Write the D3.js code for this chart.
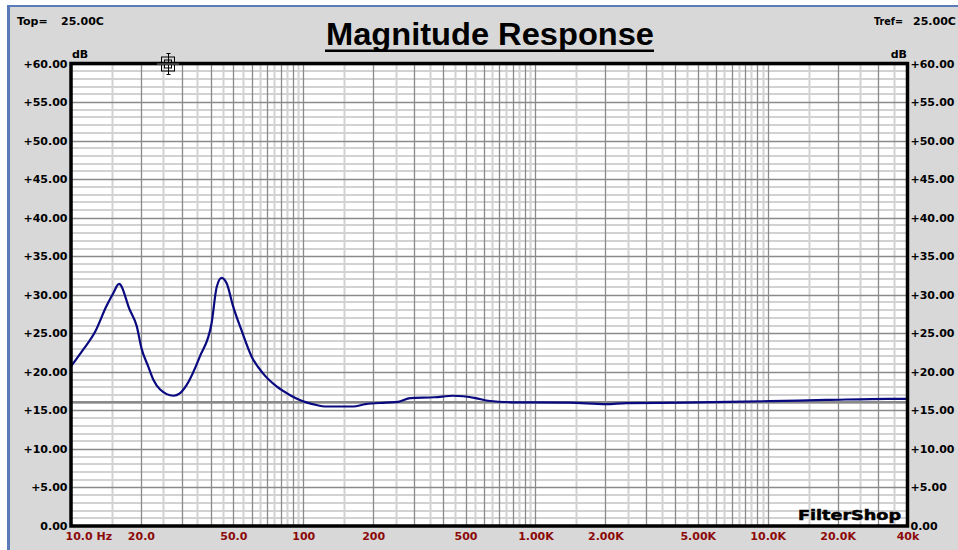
<!DOCTYPE html>
<html><head><meta charset="utf-8">
<script src="https://cdn.jsdelivr.net/npm/d3@7"></script>
<style>
html,body{margin:0;padding:0;background:#fff;}
svg{display:block;}
</style></head>
<body>
<svg id="chart" width="958" height="550"></svg>
<script>
// ---- data ----
const freqHz = [10, 11.3, 12.7, 14.2, 15.2, 16.1, 17.9, 19.2, 20.1, 21.5, 22.6, 24.2, 27.6, 29.4, 31.5, 35.9, 40.3, 42.4, 44.5, 46.8, 49.9, 54.2, 59.9, 67.1, 76.8, 87.5, 96.6, 114, 124, 164, 185, 227, 256, 289, 368, 442, 552, 624, 795, 1400, 2014, 2466, 4350, 6790, 10190, 17900, 33000, 40000];
const magDb  = [20.7, 22.9, 25.2, 28.5, 30.2, 31.4, 28.05, 25.9, 23.1, 20.7, 19.0, 17.7, 16.9, 17.2, 18.3, 22.0, 26.3, 31.0, 32.2, 31.5, 28.5, 25.4, 22.0, 19.8, 18.1, 17.0, 16.35, 15.7, 15.5, 15.5, 15.8, 16.0, 16.1, 16.6, 16.7, 16.9, 16.6, 16.25, 16.05, 16.0, 15.8, 15.95, 16.0, 16.1, 16.2, 16.35, 16.5, 16.5];
const refLevelDb = 16.05;
const xTickValues = [10, 20, 50, 100, 200, 500, 1000, 2000, 5000, 10000, 20000, 40000];
const xTickLabels = ["10.0 Hz", "20.0", "50.0", "100", "200", "500", "1.00K", "2.00K", "5.00K", "10.0K", "20.0K", "40k"];
const yTickValues = [0, 5, 10, 15, 20, 25, 30, 35, 40, 45, 50, 55, 60];
const yTickLabels = ["0.00", "+5.00", "+10.00", "+15.00", "+20.00", "+25.00", "+30.00", "+35.00", "+40.00", "+45.00", "+50.00", "+55.00", "+60.00"];
const titleText = "Magnitude Response";
const topTemp = ["Top=", "25.00C"];
const trefTemp = ["Tref=", "25.00C"];

// ---- layout ----
const L = 71, R = 907.5, T = 63.5, B = 526;
const svg = d3.select("#chart");
const FONT = "'DejaVu Sans', Verdana, sans-serif";

const x = d3.scaleLog().domain([10, 40000]).range([L, R]);
const y = d3.scaleLinear().domain([0, 60]).range([B, T]);

// window background
svg.append("rect").attr("x", 0).attr("y", 0).attr("width", 958).attr("height", 550).attr("fill", "#ffffff");
svg.append("rect").attr("x", 7).attr("y", 5).attr("width", 951).attr("height", 545).attr("fill", "#d8d8d8");
svg.append("rect").attr("x", 7).attr("y", 5).attr("width", 951).attr("height", 2).attr("fill", "#5b7bb8");
svg.append("rect").attr("x", 7).attr("y", 5).attr("width", 3).attr("height", 545).attr("fill", "#5b7bb8");

// plot background
svg.append("rect").attr("x", L).attr("y", T).attr("width", R - L).attr("height", B - T).attr("fill", "#ffffff");

svg.append("defs").append("clipPath").attr("id", "clip")
  .append("rect").attr("x", L).attr("y", T).attr("width", R - L).attr("height", B - T);

const grid = svg.append("g").attr("clip-path", "url(#clip)");

// vertical grid: light at half steps, dark at integer multiples
const lightV = [], darkV = [];
for (let dec = 10; dec <= 10000; dec *= 10) {
  for (let k = 1; k <= 9; k++) {
    darkV.push(k * dec);
    lightV.push((k + 0.5) * dec);
  }
}
darkV.push(1e5);
// horizontal grid
const lightH = d3.range(0, 61, 1).filter(v => v % 5 !== 0);
const darkH = d3.range(0, 61, 5);

grid.selectAll("line.lv").data(lightV).join("line")
  .attr("x1", d => Math.round(x(d)) + 0.5).attr("x2", d => Math.round(x(d)) + 0.5)
  .attr("y1", T).attr("y2", B).attr("stroke", "#d2d2d2").attr("stroke-width", 2);
grid.selectAll("line.lh").data(lightH).join("line")
  .attr("x1", L).attr("x2", R)
  .attr("y1", d => Math.round(y(d))).attr("y2", d => Math.round(y(d)))
  .attr("stroke", "#d2d2d2").attr("stroke-width", 2);
grid.selectAll("line.dv").data(darkV).join("line")
  .attr("x1", d => Math.round(x(d)) + 0.5).attr("x2", d => Math.round(x(d)) + 0.5)
  .attr("y1", T).attr("y2", B).attr("stroke", "#8a8a8a").attr("stroke-width", 1.3);
grid.selectAll("line.dh").data(darkH).join("line")
  .attr("x1", L).attr("x2", R)
  .attr("y1", d => Math.round(y(d)) + 0.5).attr("y2", d => Math.round(y(d)) + 0.5)
  .attr("stroke", "#8a8a8a").attr("stroke-width", 1.3);

// reference level line
grid.append("line").attr("x1", L).attr("x2", R)
  .attr("y1", y(refLevelDb)).attr("y2", y(refLevelDb))
  .attr("stroke", "#8a8a8a").attr("stroke-width", 2.5);

// curve
const pts = freqHz.map((f, i) => [f, magDb[i]]);
grid.append("path").datum(pts)
  .attr("d", d3.line().x(d => x(d[0])).y(d => y(d[1])).curve(d3.curveMonotoneX))
  .attr("fill", "none").attr("stroke", "#0a0a80").attr("stroke-width", 2.2)
  .attr("stroke-linejoin", "round");

// FilterShop logo
svg.append("text").attr("x", 798).attr("y", 520)
  .attr("font-family", FONT).attr("font-weight", "bold").attr("font-size", 13.5)
  .attr("textLength", 103).attr("lengthAdjust", "spacingAndGlyphs")
  .attr("fill", "#000").attr("stroke", "#000").attr("stroke-width", 0.5)
  .text("FilterShop");

// frame
svg.append("rect").attr("x", L).attr("y", T).attr("width", R - L).attr("height", B - T)
  .attr("fill", "none").attr("stroke", "#000").attr("stroke-width", 3.5);

// axes
function styleAxis(g) {
  g.select(".domain").remove();
  g.selectAll(".tick line").remove();
  g.selectAll("text").attr("font-family", FONT).attr("font-weight", "bold").attr("font-size", 11);
}
svg.append("g").attr("transform", `translate(${L},0)`)
  .call(d3.axisLeft(y).tickValues(yTickValues).tickSize(0).tickPadding(3.5)
    .tickFormat((d, i) => yTickLabels[i]))
  .call(styleAxis)
  .selectAll("text").attr("fill", "#000");
svg.append("g").attr("transform", `translate(${R},0)`)
  .call(d3.axisRight(y).tickValues(yTickValues).tickSize(0).tickPadding(3)
    .tickFormat((d, i) => yTickLabels[i]))
  .call(styleAxis)
  .selectAll("text").attr("fill", "#000");
const xAxisG = svg.append("g").attr("transform", `translate(0,${B})`)
  .call(d3.axisBottom(x).tickValues(xTickValues).tickSize(0).tickPadding(6)
    .tickFormat((d, i) => xTickLabels[i]))
  .call(styleAxis);
xAxisG.selectAll("text").attr("fill", "#8b0a0a");
xAxisG.selectAll(".tick").filter((d, i) => i === 0).select("text")
  .attr("text-anchor", "start").attr("x", -6);

// dB labels
svg.append("text").attr("x", 72).attr("y", 57.5).attr("font-family", FONT).attr("font-weight", "bold")
  .attr("font-size", 11).text("dB");
svg.append("text").attr("x", 907).attr("y", 57.5).attr("text-anchor", "end").attr("font-family", FONT)
  .attr("font-weight", "bold").attr("font-size", 11).text("dB");

// title
svg.append("text").attr("x", 326).attr("y", 45)
  .attr("font-family", "'Liberation Sans', Arial, sans-serif").attr("font-weight", "bold")
  .attr("font-size", 32).attr("textLength", 328).attr("lengthAdjust", "spacingAndGlyphs")
  .attr("fill", "#000").text(titleText);
svg.append("rect").attr("x", 325).attr("y", 49.5).attr("width", 329).attr("height", 2.5).attr("fill", "#000");

// temperatures
svg.append("text").attr("x", 17).attr("y", 25).attr("font-family", FONT).attr("font-weight", "bold")
  .attr("font-size", 11).text(topTemp[0]);
svg.append("text").attr("x", 61).attr("y", 25).attr("font-family", FONT).attr("font-weight", "bold")
  .attr("font-size", 11).text(topTemp[1]);
svg.append("text").attr("x", 874).attr("y", 25).attr("font-family", FONT).attr("font-weight", "bold")
  .attr("font-size", 11).attr("textLength", 29).attr("lengthAdjust", "spacingAndGlyphs").text(trefTemp[0]);
svg.append("text").attr("x", 913).attr("y", 25).attr("font-family", FONT).attr("font-weight", "bold")
  .attr("font-size", 11).text(trefTemp[1]);

// marker icon near top border
const mk = svg.append("g").attr("transform", "translate(168.5,64)");
mk.append("rect").attr("x", -7).attr("y", -7).attr("width", 13).attr("height", 14)
  .attr("fill", "none").attr("stroke", "#000").attr("stroke-width", 1);
mk.append("rect").attr("x", -4).attr("y", -4).attr("width", 7).attr("height", 8)
  .attr("fill", "none").attr("stroke", "#000").attr("stroke-width", 1);
mk.append("line").attr("x1", 0).attr("x2", 0).attr("y1", -10.5).attr("y2", 10.5)
  .attr("stroke", "#000").attr("stroke-width", 1);
mk.append("line").attr("x1", -2).attr("x2", 2).attr("y1", -10.5).attr("y2", -10.5).attr("stroke", "#000");
mk.append("line").attr("x1", -2).attr("x2", 2).attr("y1", 10.5).attr("y2", 10.5).attr("stroke", "#000");
mk.append("line").attr("x1", -11).attr("x2", 11).attr("y1", 0).attr("y2", 0)
  .attr("stroke", "#fff").attr("stroke-width", 1).attr("stroke-dasharray", "1,1");
</script>
</body></html>
